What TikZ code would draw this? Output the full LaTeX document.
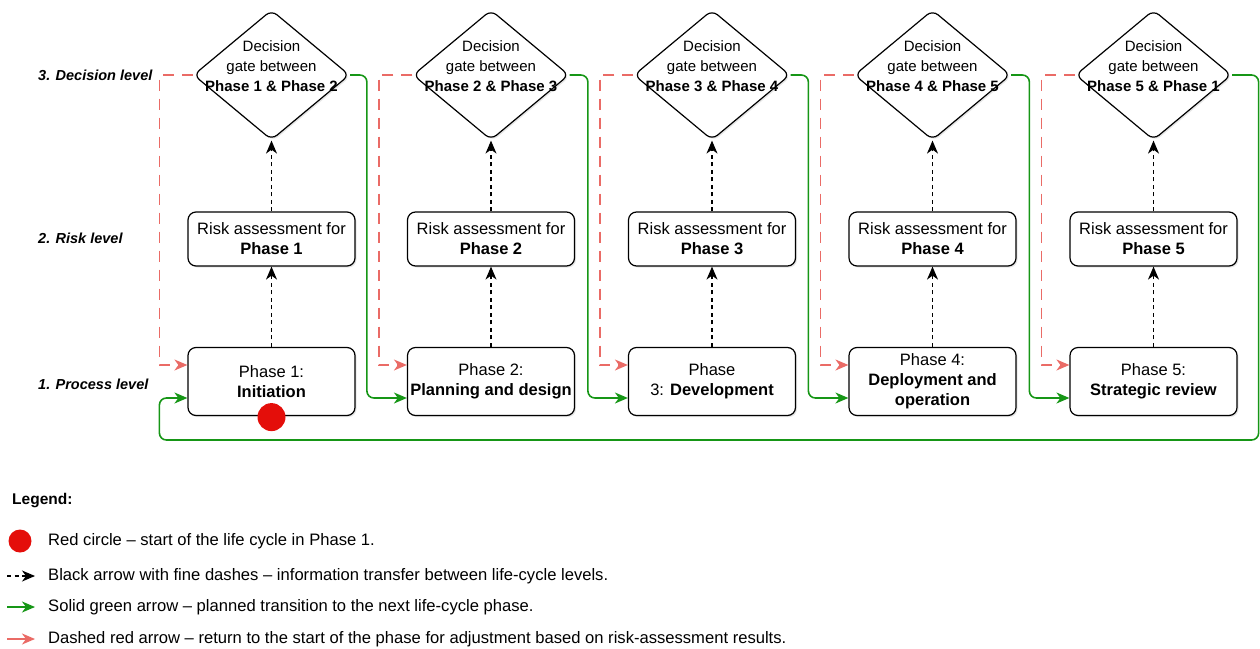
\documentclass[tikz,border=0pt]{standalone}
\usepackage{fontspec}
\setmainfont{Liberation Sans}
\usetikzlibrary{shapes.geometric,arrows.meta,calc,shadows}
\definecolor{grn}{RGB}{22,150,22}
\definecolor{lred}{RGB}{234,107,102}
\definecolor{cred}{RGB}{228,14,10}
\tikzset{
  boxtext/.style={font=\fontsize{16.5}{20}\selectfont, align=center},
  riskbox/.style={draw, rounded corners=8pt, line width=1.2pt, minimum width=167pt, minimum height=54pt,
    inner sep=0pt, fill=white, boxtext, drop shadow={opacity=0.2, shadow xshift=1.5pt, shadow yshift=-1.5pt}},
  phasebox/.style={riskbox, minimum height=68pt},
  gate/.style={diamond, draw, rounded corners=7pt, minimum width=156pt, minimum height=130pt,
    inner sep=0pt, fill=white, line width=1.2pt, drop shadow={opacity=0.2, shadow xshift=1.5pt, shadow yshift=-1.5pt}},
  gatetext/.style={font=\fontsize{15}{20}\selectfont, align=center, inner sep=0pt},
  levellabel/.style={anchor=west, font=\fontsize{14.5}{17}\selectfont\bfseries\itshape, inner sep=0pt},
  legtext/.style={anchor=west, font=\fontsize{16.6}{18}\selectfont, inner sep=0pt},
  arrtip/.style={-{Stealth[length=13pt,width=11pt,inset=4pt]}},
  infoarrow/.style={arrtip, dash pattern=on 4pt off 3.5pt, line width=1.2pt, black},
  goarrow/.style={arrtip, grn, line width=1.6pt, rounded corners=7pt},
  backarrow/.style={arrtip, lred, line width=1.6pt, dash pattern=on 11pt off 8pt},
  startdot/.style={circle, fill=cred, inner sep=0pt},
}
\begin{document}
\begin{tikzpicture}[x=1pt,y=-1pt]
\path[use as bounding box] (0,0) rectangle (1260,648);

% level labels
\node[levellabel] (L3) at (38,75) {3. Decision level};
\node[levellabel] (L2) at (38,238) {2. Risk level};
\node[levellabel] (L1) at (38,384) {1. Process level};

% phase boxes
\node[phasebox] (p1) at (271.5,381.5) {Phase 1:\\\textbf{Initiation}};
\node[phasebox] (p2) at (491,381.5) {Phase 2:\\\textbf{Planning and design}};
\node[phasebox] (p3) at (712,381.5) {Phase\\3: \textbf{Development}};
\node[phasebox] (p4) at (932.5,381.5) {Phase 4:\\\textbf{Deployment and}\\\textbf{operation}};
\node[phasebox] (p5) at (1153.5,381.5) {Phase 5:\\\textbf{Strategic review}};

% risk boxes
\node[riskbox] (r1) at (271.5,239) {Risk assessment for\\\textbf{Phase 1}};
\node[riskbox] (r2) at (491,239) {Risk assessment for\\\textbf{Phase 2}};
\node[riskbox] (r3) at (712,239) {Risk assessment for\\\textbf{Phase 3}};
\node[riskbox] (r4) at (932.5,239) {Risk assessment for\\\textbf{Phase 4}};
\node[riskbox] (r5) at (1153.5,239) {Risk assessment for\\\textbf{Phase 5}};

% decision gates
\foreach \i/\x in {1/271.5,2/491,3/712,4/932.5,5/1153.5}{
  \node[gate] (d\i) at (\x,75) {};
}
\node[gatetext] (t1) at (271.5,66) {Decision\\gate between\\\textbf{Phase 1 \& Phase 2}};
\node[gatetext] (t2) at (491,66) {Decision\\gate between\\\textbf{Phase 2 \& Phase 3}};
\node[gatetext] (t3) at (712,66) {Decision\\gate between\\\textbf{Phase 3 \& Phase 4}};
\node[gatetext] (t4) at (932.5,66) {Decision\\gate between\\\textbf{Phase 4 \& Phase 5}};
\node[gatetext] (t5) at (1153.5,66) {Decision\\gate between\\\textbf{Phase 5 \& Phase 1}};

% information arrows
\foreach \i in {1,...,5}{
  \draw[infoarrow] (p\i.north) -- (r\i.south);
  \draw[infoarrow] (r\i.north) -- (d\i.south);
}

% return arrows
\foreach \i in {1,...,5}{
  \draw[backarrow] (d\i.west) -| ($(p\i.west)+(-28,-16.5)$) -- ($(p\i.west)+(0,-16.5)$);
}

% transition arrows
\foreach \i/\j in {1/2,2/3,3/4,4/5}{
  \draw[goarrow] (d\i.east) -| ($(p\j.west)+(-40,16.5)$) -- ($(p\j.west)+(0,16.5)$);
}
\draw[goarrow] (d5.east) -| ($(d5.east)+(26.5,365)$) -| ($(p1.west)+(-28,16.5)$) -- ($(p1.west)+(0,16.5)$);

% start marker
\node[startdot, minimum size=28pt] (start) at ($(p1.south)+(0,1)$) {};

% legend
\node[anchor=west, inner sep=0pt, font=\fontsize{15.5}{18}\selectfont\bfseries] (leg) at (12,501) {Legend:};
\node[startdot, minimum size=23pt] (lc) at (20,541) {};
\node[legtext] (lt1) at (48,541) {Red circle – start of the life cycle in Phase 1.};
\coordinate (la1) at (7,576); \coordinate (lb1) at (35,576);
\draw[infoarrow] (la1) -- (lb1);
\node[legtext] (lt2) at (48,576) {Black arrow with fine dashes – information transfer between life-cycle levels.};
\coordinate (la2) at (7,607); \coordinate (lb2) at (35,607);
\draw[goarrow] (la2) -- (lb2);
\node[legtext] (lt3) at (48,607) {Solid green arrow – planned transition to the next life-cycle phase.};
\coordinate (la3) at (7,639); \coordinate (lb3) at (35,639);
\draw[backarrow, dash pattern=on 14pt off 0pt] (la3) -- (lb3);
\node[legtext] (lt4) at (48,639) {Dashed red arrow – return to the start of the phase for adjustment based on risk-assessment results.};
\end{tikzpicture}
\end{document}
